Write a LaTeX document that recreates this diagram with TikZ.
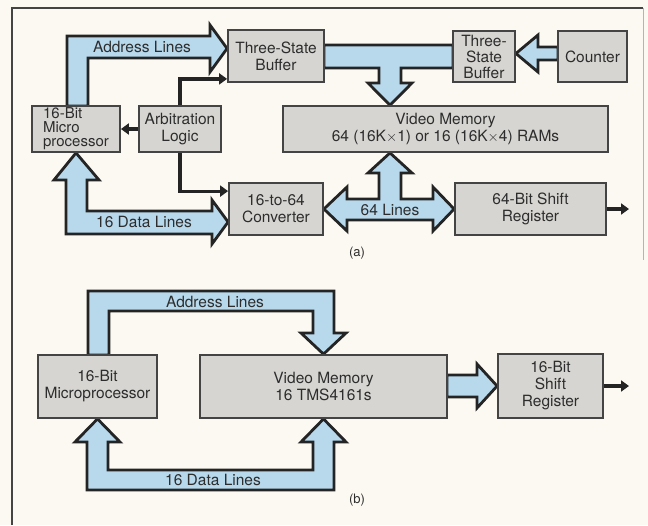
\documentclass[tikz,border=0pt]{standalone}
\usepackage{fontspec}
\setmainfont{TeX Gyre Heros}
\usetikzlibrary{arrows.meta,calc}
\definecolor{paper}{RGB}{251,249,241}
\definecolor{boxgray}{RGB}{214,213,209}
\definecolor{boxline}{RGB}{68,68,68}
\definecolor{busblue}{RGB}{184,216,236}
\definecolor{busline}{RGB}{36,36,36}
\definecolor{ink}{RGB}{45,45,45}
\pgfdeclarelayer{bg}
\pgfsetlayers{bg,main}
\tikzset{
  blk/.style={draw=boxline,fill=boxgray,line width=1.8pt,inner sep=0pt,align=center,
    text=ink,font=\fontsize{15.5}{17}\selectfont},
  bus/.style={draw=busline,fill=busblue,line width=2.8pt,line join=miter},
  ctl/.style={draw=busline,line width=3.2pt,-{Triangle[length=8pt,width=11pt]}},
  lbl/.style={text=ink,inner sep=0pt,font=\fontsize{15.5}{17}\selectfont}
}

\begin{document}
\begin{tikzpicture}[x=1pt,y=-1pt]
%\draw[help lines,step=20] (0,0) grid (648,525);
\begin{pgfonlayer}{bg}
\fill[paper] (0,0) rectangle (648,525);
\end{pgfonlayer}
\useasboundingbox (0,0) rectangle (648,525);
\draw[line width=1.8pt,draw=boxline] (12,525) -- (12,8) -- (643,8);
\draw[line width=0.8pt,draw=boxline!40] (643,8) -- (643,260);

% (a)
\node[blk,align=left,font=\fontsize{15}{14}\selectfont,minimum width=88,minimum height=46] (mpa) at (76,129) {16-Bit\\Micro\\processor};
\node[blk,minimum width=82,minimum height=46] (arb) at (180,129) {Arbitration\\Logic};
\node[blk,minimum width=96,minimum height=52] (tsa) at (276,56) {Three-State\\Buffer};
\node[blk,font=\fontsize{15.5}{16}\selectfont,minimum width=62,minimum height=51] (tsb) at (484,56.5) {Three-\\State\\Buffer};
\node[blk,minimum width=69,minimum height=51] (cnt) at (592.5,56.5) {Counter};
\node[blk,minimum width=325,minimum height=46] (vma) at (445.5,129) {Video Memory\\64 (16K$\times$1) or 16 (16K$\times$4) RAMs};
\node[blk,minimum width=94,minimum height=52] (cva) at (276,209) {16-to-64\\Converter};
\node[blk,minimum width=151,minimum height=52] (sra) at (530.5,209) {64-Bit Shift\\Register};
\coordinate (outa) at (629,209);

\begin{pgfonlayer}{bg}
\draw[bus] (67,106) -- (67,36) -- (210,36) -- (210,25) -- ([yshift=7.5pt]tsa.west) -- (210,72) -- (210,58) -- (88,58) -- (88,106) -- cycle;
\draw[bus] (mpa.south) -- (99,180) -- (87,180) -- (87,211) -- (212,211) -- (212,200) -- ([yshift=-13pt]cva.west) -- (212,244) -- (212,234) -- (66,234) -- (66,180) -- (54,180) -- cycle;
\draw[bus] (324,45) -- (453,45) -- (453,68) -- (401,68) -- (401,83) -- (412,83) -- ([xshift=-55.5pt]vma.north) -- (368,83) -- (379,83) -- (379,68) -- (324,68) -- cycle;
\draw[bus] (558,47) -- (538,47) -- (538,35) -- ([yshift=3pt]tsb.east) -- (538,72) -- (538,60) -- (558,60) -- cycle;
\draw[bus] (cva.east) -- (347,187) -- (347,199) -- (379,199) -- (379,173) -- (368,173) -- ([xshift=-55.5pt]vma.south) -- (412,173) -- (401,173) -- (401,199) -- (433,199) -- (433,187) -- (sra.west) -- (433,231) -- (433,220) -- (347,220) -- (347,231) -- cycle;
\end{pgfonlayer}
\node[lbl] (adra) at (142,47) {Address Lines};
\node[lbl] (data) at (144,222) {16 Data Lines};
\node[lbl] (lines) at (390,210) {64 Lines};

\draw[ctl] (arb.north) |- ([yshift=4pt]tsa.south west);
\draw[ctl] (arb.south) |- ([yshift=-9pt]cva.north west);
\draw[ctl] (arb.west) -- (mpa.east);
\draw[ctl] (sra.east) -- (outa);
\node[lbl,font=\fontsize{13}{15}\selectfont] (capa) at (357,253) {(a)};

% (b)
\node[blk,minimum width=119,minimum height=63] (mpb) at (97.5,386.5) {16-Bit\\Microprocessor};
\node[blk,minimum width=247,minimum height=63] (vmb) at (323.5,386.5) {Video Memory\\16 TMS4161s};
\node[blk,minimum width=105,minimum height=64] (srb) at (550.5,386) {16-Bit\\Shift\\Register};
\coordinate (outb) at (629,386);

\begin{pgfonlayer}{bg}
\draw[bus] (88,355) -- (88,291) -- (334,291) -- (334,333) -- (346,333) -- (vmb.north) -- (301,333) -- (313,333) -- (313,311) -- (109,311) -- (109,355) -- cycle;
\draw[bus] (mpb.south) -- (120,442) -- (108,442) -- (108,470) -- (313,470) -- (313,442) -- (301,442) -- (vmb.south) -- (346,442) -- (334,442) -- (334,490) -- (87,490) -- (87,442) -- (75,442) -- cycle;
\draw[bus] (447,375) -- (477,375) -- (477,364) -- (srb.west) -- (477,408) -- (477,397) -- (447,397) -- cycle;
\end{pgfonlayer}
\node[lbl] (adrb) at (215,302) {Address Lines};
\node[lbl] (datb) at (213,480) {16 Data Lines};

\draw[ctl] (srb.east) -- (outb);
\node[lbl,font=\fontsize{13}{15}\selectfont] (capb) at (357,500) {(b)};
\end{tikzpicture}
\end{document}
